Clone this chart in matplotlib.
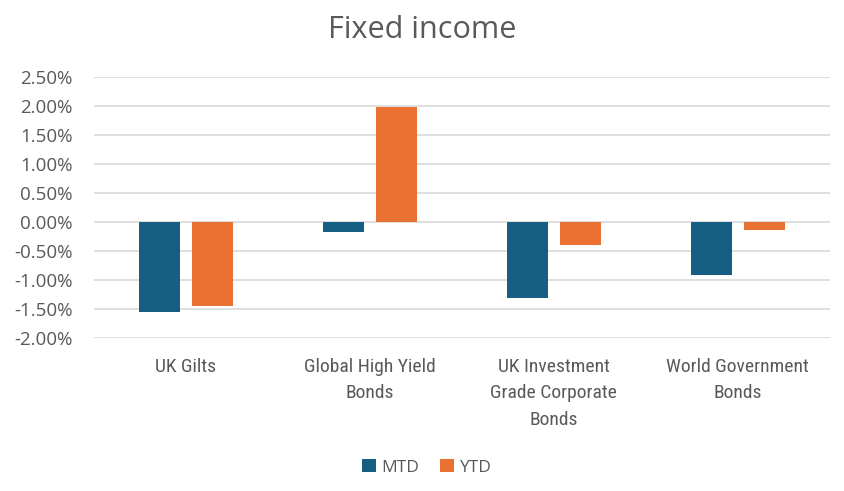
import numpy as np
import matplotlib
matplotlib.use("Agg")
import matplotlib.pyplot as plt
from matplotlib import font_manager
from matplotlib.ticker import FuncFormatter

categories = ["UK Gilts", "Global High Yield\nBonds", "UK Investment\nGrade Corporate\nBonds",
              "World Government\nBonds"]
mtd = [-1.55, -0.17, -1.31, -0.91]
ytd = [-1.45, 1.98, -0.40, -0.14]
yticks = [-2.0, -1.5, -1.0, -0.5, 0.0, 0.5, 1.0, 1.5, 2.0, 2.5]

names = {f.name for f in font_manager.fontManager.ttflist}
main_font = "Open Sans" if "Open Sans" in names else "DejaVu Sans"
narrow_font = main_font
for cand in ["Liberation Sans Narrow", "Roboto Condensed", "Open Sans Condensed", "Roboto"]:
    if cand in names:
        narrow_font = cand
        break
plt.rcParams['font.family'] = [main_font, 'DejaVu Sans']

grey = "#595959"
blue = "#156082"
orange = "#E97132"

fig = plt.figure(figsize=(8.45, 4.91), dpi=100)
ax = fig.add_axes([0.111, 0.311, 0.871, 0.532])

x = np.arange(len(categories))
w = 0.223
off = 0.144
ax.bar(x - off, mtd, w, color=blue, label="MTD", zorder=3)
ax.bar(x + off, ytd, w, color=orange, label="YTD", zorder=3)

ax.set_ylim(-2.0, 2.5)
ax.set_xlim(-0.5, len(categories) - 0.5)
ax.set_yticks(yticks)
ax.yaxis.set_major_formatter(FuncFormatter(lambda v, p: "%.2f%%" % v))
ax.grid(axis='y', color="#d9d9d9", linewidth=1.2, zorder=0)
for s in ax.spines.values():
    s.set_visible(False)
ax.tick_params(axis='both', length=0, colors=grey)
ax.tick_params(axis='y', labelsize=13.5, pad=15)
ax.set_xticks(x)
ax.set_xticklabels(categories, fontsize=14, family=narrow_font, color=grey, linespacing=1.6)
ax.tick_params(axis='x', pad=14)

fig.suptitle("Fixed income", fontsize=22, color=grey, y=0.97)

leg = fig.legend(loc='center', bbox_to_anchor=(0.505, 0.048), ncol=2, frameon=False,
                 fontsize=12.5, handlelength=0.8, handleheight=0.8, handletextpad=0.3,
                 columnspacing=1.2)
for t in leg.get_texts():
    t.set_color(grey)

fig.savefig("out.png", dpi=100)
